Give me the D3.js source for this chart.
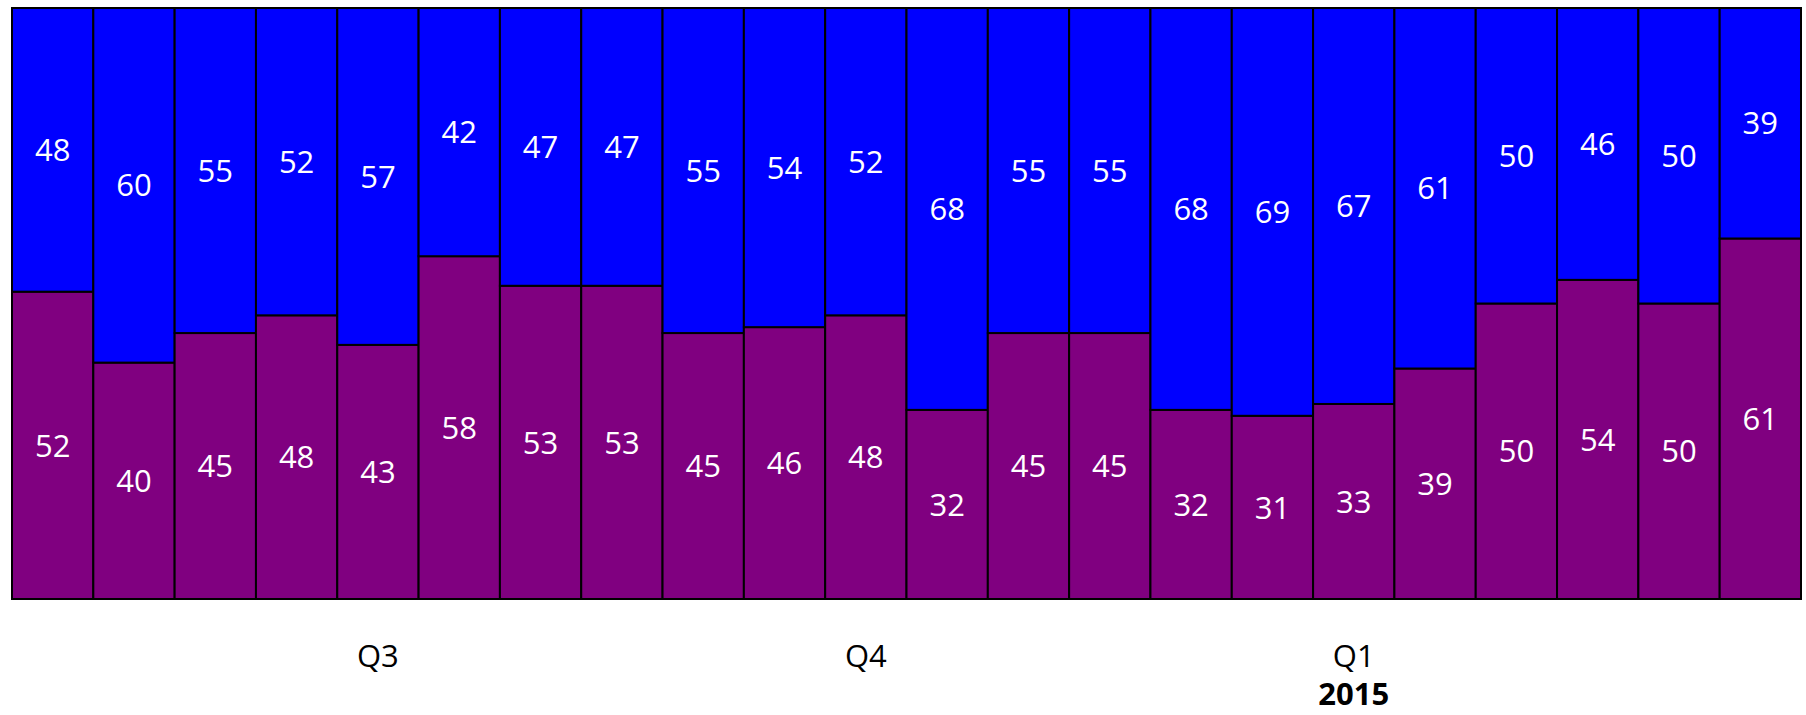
<!DOCTYPE html>
<html>
<head>
<meta charset="utf-8">
<script src="https://cdn.jsdelivr.net/npm/d3@7"></script>
<style>
	body { margin: 0; background: #fff; }
	svg text { font-family: 'Open Sans', 'Noto Sans', sans-serif; }
	.val { fill: #fff; font-size: 31px; }
	.axis text { fill: #000; font-size: 31px; }
	.axis path, .axis line { display: none; }
	.axis text.year { font-size: 31px; font-weight: bold; }
</style>
</head>
<body>
<div class="graphic__chart"></div>
<script>
// bottom segment (purple) and top segment (blue), one entry per bar
const lower = [52, 40, 45, 48, 43, 58, 53, 53, 45, 46, 48, 32, 45, 45, 32, 31, 33, 39, 50, 54, 50, 61]
const upper = [48, 60, 55, 52, 57, 42, 47, 47, 55, 54, 52, 68, 55, 55, 68, 69, 67, 61, 50, 46, 50, 39]
// quarter labels sit under single bars, rest blank
const quarters = ['', '', '', '', 'Q3', '', '', '', '', '', 'Q4', '', '', '', '', '', 'Q1', '', '', '', '', '']
const years = ['', '', '', '', '', '', '', '', '', '', '', '', '', '', '', '', '2015', '', '', '', '', '']

const width = 1806
const height = 715
const margin = { top: 8, right: 5, bottom: 116, left: 12 }

const COLORS = { lower: '#800080', upper: '#0000ff' }

const data = lower.map((v, i) => ({ i, lower: v, upper: upper[i] }))

const x = d3.scaleBand()
	.domain(data.map(d => d.i))
	.range([margin.left, width - margin.right])
	.padding(0)

const y = d3.scaleLinear()
	.domain([0, 100])
	.range([height - margin.bottom, margin.top])

const svg = d3.select('.graphic__chart').append('svg')
	.attr('width', width)
	.attr('height', height)
	.style('display', 'block')

const bar = svg.append('g').attr('class', 'bars')
	.selectAll('.bar')
	.data(data)
	.enter().append('g')
		.attr('class', 'bar')

const keys = ['lower', 'upper']

keys.forEach((key) => {
	const y0 = d => key === 'lower' ? 0 : d.lower
	const y1 = d => key === 'lower' ? d.lower : d.lower + d.upper

	bar.append('rect')
		.attr('x', d => x(d.i))
		.attr('y', d => y(y1(d)))
		.attr('width', x.bandwidth())
		.attr('height', d => y(y0(d)) - y(y1(d)))
		.attr('fill', COLORS[key])
		.attr('stroke', '#000')
		.attr('stroke-width', 2)

	bar.append('text')
		.attr('class', 'val')
		.attr('text-anchor', 'middle')
		.attr('dy', '0.36em')
		.attr('x', d => x(d.i) + x.bandwidth() / 2)
		.attr('y', d => (y(y0(d)) + y(y1(d))) / 2)
		.text(d => d[key])
})

// quarter row
svg.append('g')
	.attr('class', 'axis axis--x')
	.attr('transform', `translate(0,${height - margin.bottom})`)
	.call(d3.axisBottom(x).tickSize(0).tickPadding(46).tickFormat(i => quarters[i]))

// year row
svg.append('g')
	.attr('class', 'axis axis--year')
	.attr('transform', `translate(0,${height - margin.bottom})`)
	.call(d3.axisBottom(x).tickSize(0).tickPadding(84).tickFormat(i => years[i]))
	.selectAll('text')
		.attr('class', 'year')
</script>
</body>
</html>
